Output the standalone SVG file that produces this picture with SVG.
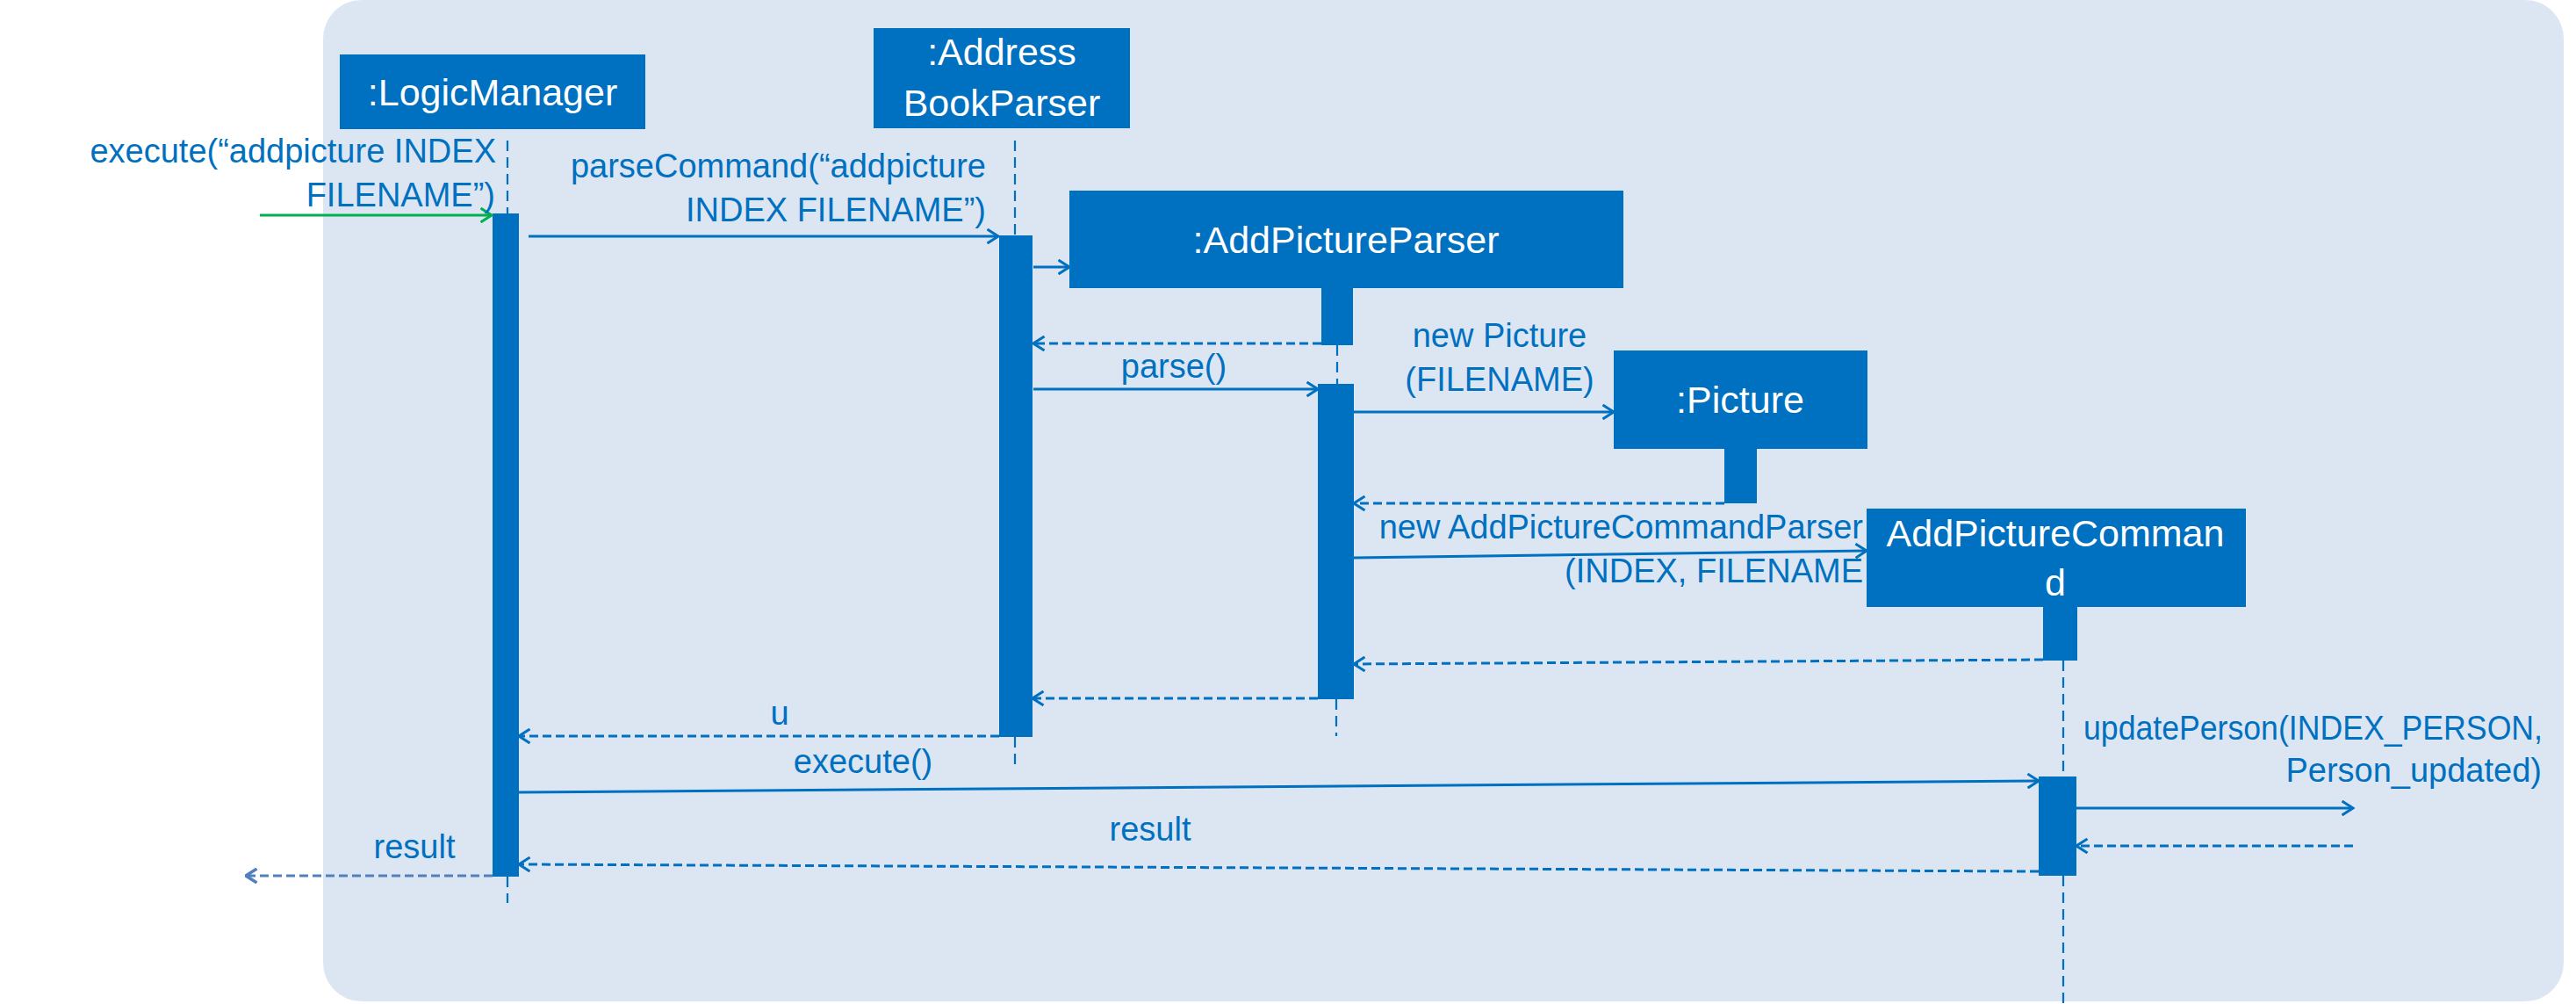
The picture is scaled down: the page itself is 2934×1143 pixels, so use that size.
<svg xmlns="http://www.w3.org/2000/svg" width="2934" height="1143" viewBox="0 0 2934 1143">
<style>
.box{fill:#0070C0}
.act{fill:#0070C0}
.ntext{font-family:"Liberation Sans",Arial,sans-serif;font-size:43px;fill:#FFFFFF;text-anchor:middle}
.lbl{font-family:"Liberation Sans",Arial,sans-serif;font-size:38px;fill:#0070C0}
.life{stroke:#0070C0;stroke-width:2.2;stroke-dasharray:12 7;fill:none}
.msg{stroke:#0070C0;stroke-width:3;fill:none;marker-end:url(#arr)}
.ret{stroke:#0070C0;stroke-width:3;fill:none;stroke-dasharray:10 5;marker-end:url(#arr)}
.ret2{stroke:#4F81BD;stroke-width:3;fill:none;stroke-dasharray:10 5;marker-end:url(#arr2)}
.start{stroke:#00B050;stroke-width:3;fill:none;marker-end:url(#arrg)}
</style>
<defs>
<marker id="arr" viewBox="0 0 15 18" refX="13.5" refY="9" markerWidth="15" markerHeight="18" markerUnits="userSpaceOnUse" orient="auto">
<path d="M1,1 L13.5,9 L1,17" fill="none" stroke="#0070C0" stroke-width="3" stroke-dasharray="none"/>
</marker>
<marker id="arr2" viewBox="0 0 15 18" refX="13.5" refY="9" markerWidth="15" markerHeight="18" markerUnits="userSpaceOnUse" orient="auto">
<path d="M1,1 L13.5,9 L1,17" fill="none" stroke="#4F81BD" stroke-width="3.5" stroke-dasharray="none"/>
</marker>
<marker id="arrg" viewBox="0 0 15 18" refX="13.5" refY="9" markerWidth="15" markerHeight="18" markerUnits="userSpaceOnUse" orient="auto">
<path d="M1,1 L13.5,9 L1,17" fill="none" stroke="#00B050" stroke-width="3" stroke-dasharray="none"/>
</marker>
</defs>
<rect x="368" y="0" width="2552" height="1140" rx="44" ry="44" fill="#DCE6F2"/>

<g id="logicManager">
<rect class="box" x="387" y="62" width="348" height="85"/>
<text class="ntext" x="561" y="120">:LogicManager</text>
<line class="life" x1="578" y1="160" x2="578" y2="243"/>
<rect class="act" x="561" y="243" width="30" height="755"/>
<line class="life" x1="578" y1="998" x2="578" y2="1028"/>
</g>

<g id="addressBookParser">
<rect class="box" x="995" y="32" width="292" height="114"/>
<text class="ntext" x="1141" y="74">:Address</text>
<text class="ntext" x="1141" y="132">BookParser</text>
<line class="life" x1="1156" y1="160" x2="1156" y2="268"/>
<rect class="act" x="1138" y="268" width="38" height="571"/>
<line class="life" x1="1156" y1="839" x2="1156" y2="876"/>
</g>

<g id="addPictureParser">
<rect class="box" x="1218" y="217" width="631" height="111"/>
<text class="ntext" x="1533" y="288">:AddPictureParser</text>
<rect class="act" x="1505" y="328" width="36" height="65"/>
<line class="life" x1="1523" y1="393" x2="1523" y2="437"/>
<rect class="act" x="1501" y="437" width="41" height="359"/>
<line class="life" x1="1522" y1="796" x2="1522" y2="838"/>
</g>

<g id="picture">
<rect class="box" x="1838" y="399" width="289" height="112"/>
<text class="ntext" x="1982" y="470">:Picture</text>
<rect class="act" x="1964" y="511" width="37" height="62"/>
</g>

<g id="addPictureCommand">
<rect class="box" x="2126" y="579" width="432" height="112"/>
<text class="ntext" x="2341" y="622">AddPictureComman</text>
<text class="ntext" x="2341" y="678">d</text>
<rect class="act" x="2327" y="691" width="39" height="61"/>
<line class="life" x1="2350" y1="752" x2="2350" y2="884"/>
<rect class="act" x="2322" y="884" width="43" height="113"/>
<line class="life" x1="2350" y1="997" x2="2350" y2="1143"/>
</g>

<g id="connectors">
<path class="start" d="M296,245 L560,245"/>
<text class="lbl" x="565" y="185" text-anchor="end">execute(“addpicture INDEX</text>
<text class="lbl" x="564" y="235" text-anchor="end">FILENAME”)</text>

<path class="msg" d="M602,269 L1137,269"/>
<text class="lbl" x="1123" y="202" text-anchor="end">parseCommand(“addpicture</text>
<text class="lbl" x="1123" y="252" text-anchor="end">INDEX FILENAME”)</text>

<path class="msg" d="M1177,304 L1218,304"/>
<path class="ret" d="M1505,391 L1177,391"/>

<path class="msg" d="M1177,443 L1501,443"/>
<text class="lbl" x="1337" y="430" text-anchor="middle">parse()</text>

<path class="msg" d="M1542,469 L1838,469"/>
<text class="lbl" x="1708" y="395" text-anchor="middle">new Picture</text>
<text class="lbl" x="1708" y="445" text-anchor="middle">(FILENAME)</text>

<path class="ret" d="M1964,573 L1542,573"/>

<path class="msg" d="M1542,635 L2126,627"/>
<text class="lbl" x="2122" y="613" text-anchor="end">new AddPictureCommandParser</text>
<text class="lbl" x="2122" y="663" text-anchor="end">(INDEX, FILENAME</text>

<path class="ret" d="M2327,751 L1542,756"/>
<path class="ret" d="M1501,795 L1176,795"/>

<path class="ret" d="M1138,838 L591,838"/>
<text class="lbl" x="888" y="825" text-anchor="middle">u</text>

<path class="msg" d="M591,902 L2322,889"/>
<text class="lbl" x="983" y="880" text-anchor="middle">execute()</text>

<path class="msg" d="M2365,920 L2680,920"/>
<text class="lbl" x="2373" y="842" textLength="523" lengthAdjust="spacingAndGlyphs">updatePerson(INDEX_PERSON,</text>
<text class="lbl" x="2895" y="890" text-anchor="end">Person_updated)</text>
<path class="ret" d="M2680,963 L2365,963"/>

<path class="ret" d="M2322,992 L591,984"/>
<text class="lbl" x="1310" y="957" text-anchor="middle">result</text>

<path class="ret2" d="M561,997 L280,997"/>
<text class="lbl" x="472" y="977" text-anchor="middle">result</text>
</g>
</svg>
